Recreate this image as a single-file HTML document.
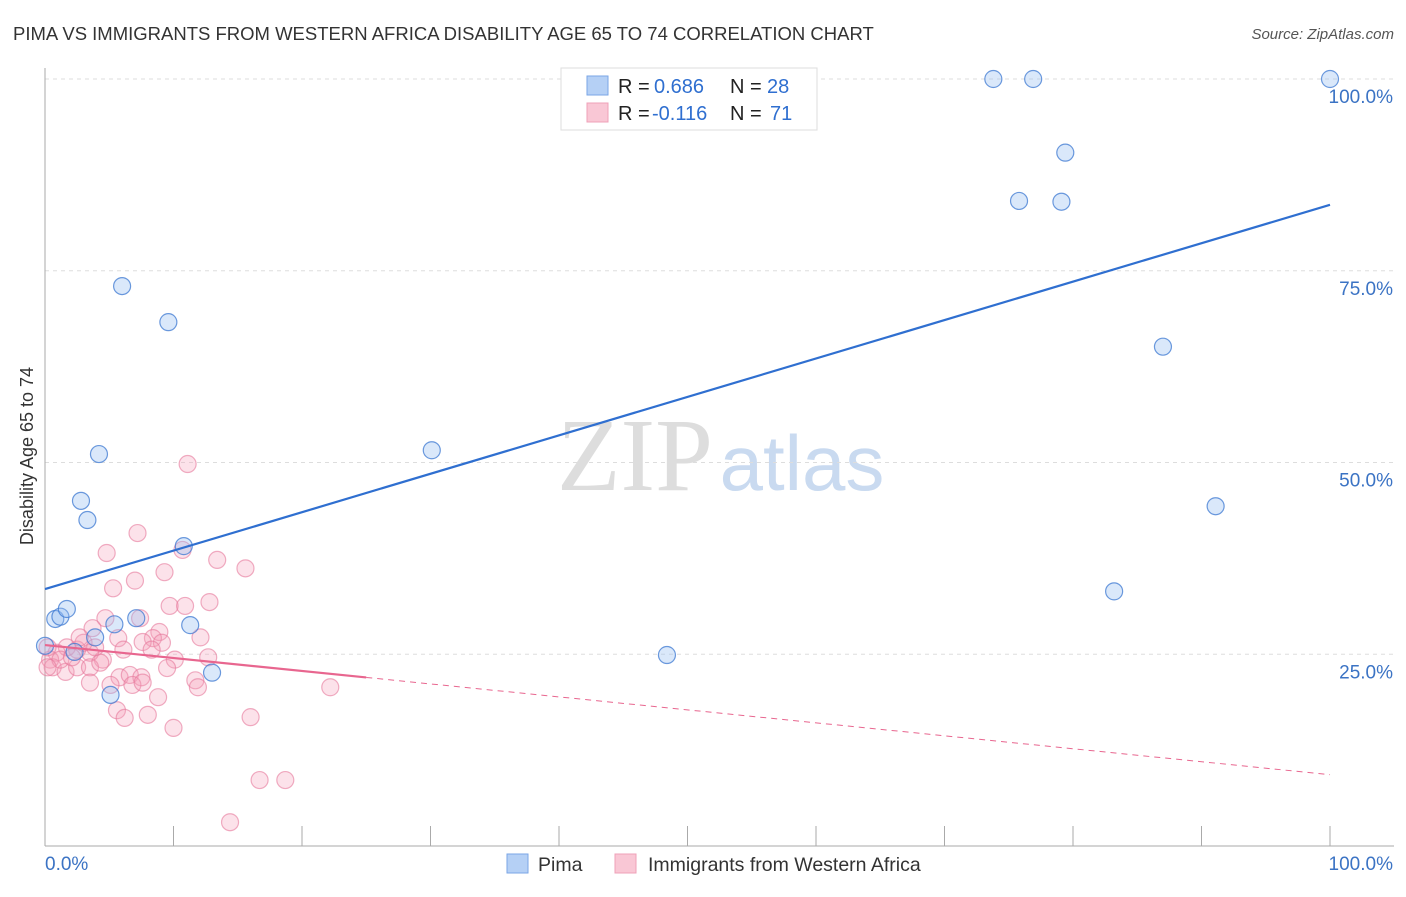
<!DOCTYPE html>
<html><head><meta charset="utf-8"><style>
body{margin:0;background:#fff;font-family:"Liberation Sans",sans-serif;}
svg text{font-family:"Liberation Sans",sans-serif;}
</style></head><body>
<svg id="chart" width="1406" height="892" xmlns="http://www.w3.org/2000/svg">
<text x="13" y="40" font-size="18.5" fill="#333">PIMA VS IMMIGRANTS FROM WESTERN AFRICA DISABILITY AGE 65 TO 74 CORRELATION CHART</text>
<text x="1394" y="39" font-size="15" fill="#555" font-style="italic" text-anchor="end">Source: ZipAtlas.com</text>
<g>
<text x="635" y="490" font-size="104" fill="#ddd" text-anchor="middle" style="font-family:'Liberation Serif',serif">ZIP</text>
<text x="802" y="490" font-size="78" fill="#c9daf0" text-anchor="middle">atlas</text>
</g>
<g id="grid"></g>
<g id="axes"></g>
<g id="marks"></g>
<text x="33" y="456" font-size="18" fill="#333" text-anchor="middle" transform="rotate(-90 33 456)">Disability Age 65 to 74</text>
<g>
<rect x="561" y="68" width="256" height="62" fill="#fff" stroke="#ddd"/>
<rect x="587" y="76" width="21" height="19" fill="#b5d0f5" stroke="#7aa6e6"/>
<rect x="587" y="103" width="21" height="19" fill="#f9c7d5" stroke="#efa0b8"/>
<text x="618" y="93" font-size="20" fill="#222">R =</text>
<text x="654" y="93" font-size="20" fill="#2f6fd0">0.686</text>
<text x="730" y="93" font-size="20" fill="#222">N =</text>
<text x="767" y="93" font-size="20" fill="#2f6fd0">28</text>
<text x="618" y="120" font-size="20" fill="#222">R =</text>
<text x="652" y="120" font-size="20" fill="#2f6fd0">-0.116</text>
<text x="730" y="120" font-size="20" fill="#222">N =</text>
<text x="770" y="120" font-size="20" fill="#2f6fd0">71</text>
</g>
<g>
<rect x="507" y="854" width="21" height="19" fill="#b5d0f5" stroke="#7aa6e6"/>
<text x="538" y="871" font-size="19.5" fill="#333">Pima</text>
<rect x="615" y="854" width="21" height="19" fill="#f9c7d5" stroke="#efa0b8"/>
<text x="648" y="871" font-size="19.5" fill="#333">Immigrants from Western Africa</text>
</g>
</svg>
<script>
const pimaX=[0,0.8,1.2,1.7,2.8,3.3,3.9,4.2,5.1,5.4,6.0,7.1,9.6,10.8,11.3,13.0,30.1,48.4,73.8,76.9,75.8,79.1,79.4,87.0,83.2,91.1,100,2.3];
const pimaY=[26.1,29.6,29.9,30.9,45.0,42.5,27.2,51.1,19.7,28.9,73.0,29.7,68.3,39.1,28.8,22.6,51.6,24.9,100,100,84.1,84.0,90.4,65.1,33.2,44.3,100,25.3];
const immX=[7.2,4.8,10.7,13.4,15.6,9.3,7.0,5.3,9.7,10.9,12.8,4.7,7.4,3.7,5.7,8.9,8.4,12.1,7.6,9.1,6.1,8.3,10.1,12.7,9.5,4.5,3.5,2.5,1.7,0.9,0.4,0.6,1.6,2.5,3.5,4.3,5.8,6.6,7.5,6.8,7.6,3.5,11.7,11.9,22.2,5.1,8.8,5.6,6.2,8.0,10.0,16.0,16.7,18.7,14.4,1.2,2.1,3.0,0.2,0.2,2.7,3.9,11.1];
const immY=[40.8,38.2,38.6,37.3,36.2,35.7,34.6,33.6,31.3,31.3,31.8,29.7,29.7,28.4,27.1,27.9,27.1,27.2,26.6,26.5,25.6,25.6,24.3,24.6,23.2,24.3,25.2,25.6,25.9,25.2,24.3,23.3,22.7,23.3,23.3,23.9,22.0,22.3,22.0,21.0,21.3,21.3,21.6,20.7,20.7,21.0,19.4,17.7,16.7,17.1,15.4,16.8,8.6,8.6,3.1,24.3,24.6,26.5,25.9,23.3,27.2,25.9,49.8];
const pimaTrend=[33.5,83.6];
const immTrend=[26.2,9.3];
const immSolidEnd=25;
const yTicks=[25,50,75,100];
const yTickLabels=["25.0%","50.0%","75.0%","100.0%"];
const xTicks=[0,10,20,30,40,50,60,70,80,90,100];

const NS="http://www.w3.org/2000/svg";
const sx=v=>45+v*12.85;
const sy=v=>846-v*7.67;
function mk(tag,attrs,parent){const e=document.createElementNS(NS,tag);for(const k in attrs)e.setAttribute(k,attrs[k]);parent.appendChild(e);return e;}
const grid=document.getElementById('grid'),axes=document.getElementById('axes'),marks=document.getElementById('marks');
yTicks.forEach((t,i)=>{
 const l=mk('line',{x1:45,x2:1394,y1:sy(t),y2:sy(t),stroke:'#ddd','stroke-dasharray':'4,4'},grid);
 
 
 const tx=mk('text',{x:1393,y:sy(t)+24,'font-size':19,fill:'#3b73c4','text-anchor':'end'},axes);
 tx.textContent=yTickLabels[i];
 
 
});
const ya=mk('line',{x1:45,x2:45,y1:68,y2:846,stroke:'#aaa'},axes);


const xa=mk('line',{x1:45,x2:1394,y1:846,y2:846,stroke:'#aaa'},axes);


xTicks.forEach(t=>{
 const l=mk('line',{x1:sx(t),x2:sx(t),y1:826,y2:846,stroke:'#aaa'},axes);
 
 
});
const xl0=mk('text',{x:45,y:870,'font-size':19,fill:'#3b73c4'},axes);xl0.textContent="0.0%";


const xl1=mk('text',{x:1393,y:870,'font-size':19,fill:'#3b73c4','text-anchor':'end'},axes);xl1.textContent="100.0%";



immX.forEach((x,i)=>{
 const c=mk('circle',{cx:sx(x),cy:sy(immY[i]),r:8.5,fill:'rgba(245,160,185,0.3)',stroke:'rgba(230,120,155,0.6)','stroke-width':1.2},marks);
 
 
});
pimaX.forEach((x,i)=>{
 const c=mk('circle',{cx:sx(x),cy:sy(pimaY[i]),r:8.5,fill:'rgba(150,190,240,0.35)',stroke:'rgba(60,120,210,0.75)','stroke-width':1.2},marks);
 
 
});
const pl=mk('line',{x1:sx(0),y1:sy(pimaTrend[0]),x2:sx(100),y2:sy(pimaTrend[1]),stroke:'#2f6fd0','stroke-width':2.2},marks);


const imAt=x=>immTrend[0]+(immTrend[1]-immTrend[0])*x/100;
const il=mk('line',{x1:sx(0),y1:sy(imAt(0)),x2:sx(immSolidEnd),y2:sy(imAt(immSolidEnd)),stroke:'#e8668f','stroke-width':2.2},marks);


const id=mk('line',{x1:sx(immSolidEnd),y1:sy(imAt(immSolidEnd)),x2:sx(100),y2:sy(imAt(100)),stroke:'#e8668f','stroke-width':1,'stroke-dasharray':'6,5'},marks);


</script>
</body></html>
